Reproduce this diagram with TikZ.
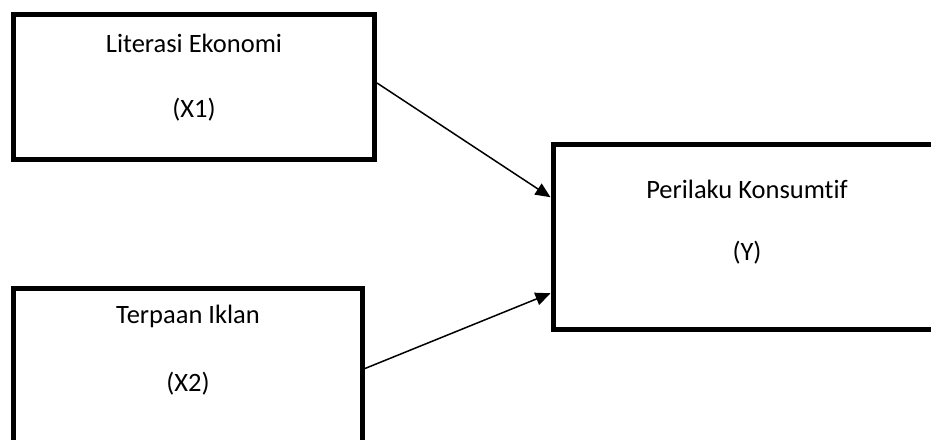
\documentclass[tikz,border=0pt]{standalone}
\usepackage{fontspec}
\setmainfont{Carlito}[RawFeature={-liga}]
\usetikzlibrary{arrows.meta,calc}
\tikzset{
  varbox/.style={draw,line width=5pt,minimum width=#1,inner sep=0pt},
  vartext/.style={font=\fontsize{26.5}{30}\selectfont,inner sep=0pt},
  path/.style={line width=1.5pt,-{Triangle[length=15pt,width=13pt]}}
}

\begin{document}
\begin{tikzpicture}[x=1pt,y=-1pt]
\useasboundingbox (0,0) rectangle (931,439);
	\begin{scope}
    % the two variables X and the variable Y
    \node[varbox=361pt,minimum height=145pt] (x1) at (194,87) {};
    \node[varbox=349pt,minimum height=160pt] (x2) at (188,368.5) {};
    \node[varbox=388pt,minimum height=185.5pt] (y) at (747,236.75) {};
    \node[vartext] (x1a) at ($(x1.north)+(0,31)$) {Literasi Ekonomi};
    \node[vartext] (x1b) at ($(x1.north)+(0,98)$) {(X1)};
    \node[vartext] (x2a) at ($(x2.north)+(0,30)$) {Terpaan Iklan};
    \node[vartext] (x2b) at ($(x2.north)+(0,98)$) {(X2)};
    \node[vartext] (ya) at ($(y.north)+(0,48)$) {Perilaku Konsumtif};
    \node[vartext] (yb) at ($(y.north)+(0,111)$) {(Y)};
    \draw[path] ([yshift=4pt]x1.east) -- ([yshift=39.5pt]y.west);
    \draw[path] (x2.east) -- ([yshift=-56.5pt]y.west);
	\end{scope}
\end{tikzpicture}
\end{document}
